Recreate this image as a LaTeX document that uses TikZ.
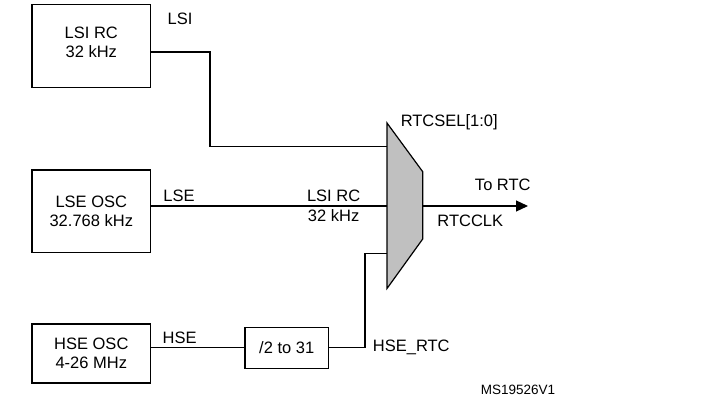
\documentclass[tikz,border=0pt]{standalone}
\usepackage{fontspec}
\setmainfont{Liberation Sans}
\usetikzlibrary{arrows.meta}
\begin{document}
\begin{tikzpicture}[x=1pt,y=-1pt,
  every node/.style={font=\fontsize{16.5}{19}\selectfont, inner sep=0pt},
  blk/.style={draw, line width=1.2pt, align=center, minimum width=118.7pt},
  lbl/.style={anchor=base},
  wire/.style={line width=1.2pt}]
\useasboundingbox (0,0) rectangle (706,401);
% blocks
\node[blk, minimum height=83.4pt, text depth=7pt] (lsi) at (91.3,46) {LSI RC\\32 kHz};
\node[blk, minimum height=82.7pt] (lse) at (91.3,211.3) {LSE OSC\\32.768 kHz};
\node[blk, minimum height=59pt] (hse) at (91.3,353.5) {HSE OSC\\4-26 MHz};
\node[blk, minimum width=83.3pt, minimum height=41.5pt] (div) at (286.7,348) {/2 to 31};
% mux
\coordinate (muxtl) at (387,123);
\coordinate (muxtr) at (422.7,171.7);
\coordinate (muxbr) at (422.7,239);
\coordinate (muxbl) at (387,288.5);
\coordinate (in1) at (387,146.7);
\coordinate (in2) at (387,206);
\coordinate (in3) at (387,253.3);
\coordinate (muxout) at (422.7,206);
\coordinate (rtc) at (528,206);
\coordinate (c1) at (210,146.7);
\coordinate (c3) at (365,253.3);
\filldraw[wire, fill={rgb,255:red,192;green,192;blue,192}] (muxtl) -- (muxtr) -- (muxbr) -- (muxbl) -- cycle;
% wires
\draw[wire] ([yshift=-6pt]lsi.east) -| (c1) -- (in1);
\draw[wire] ([yshift=5.3pt]lse.east) -- (in2);
\draw[wire] ([yshift=5.8pt]hse.east) -- ([yshift=0.3pt]div.west);
\draw[wire] ([yshift=0.3pt]div.east) -| (c3) -- (in3);
\draw[wire, -{Triangle[length=12pt,width=11pt]}] (muxout) -- (rtc);
% labels
\node[lbl] (tlsi) at (180,25) {LSI};
\node[lbl] (tlse) at (179,201.7) {LSE};
\node[lbl] (thse) at (179.7,343.3) {HSE};
\node[lbl] (tlsirc) at (333.6,201.7) {LSI RC};
\node[lbl] (t32) at (333.6,221.7) {32 kHz};
\node[lbl] (tsel) at (449.2,126) {RTCSEL[1:0]};
\node[lbl] (tto) at (502.8,190) {To RTC};
\node[lbl] (tclk) at (470.3,226) {RTCCLK};
\node[lbl, anchor=base west] (thsertc) at (372.7,351.7) {HSE\_RTC};
\node[lbl, font=\fontsize{13.5}{16}\selectfont] (tms) at (518,394) {MS19526V1};
\end{tikzpicture}
\end{document}
